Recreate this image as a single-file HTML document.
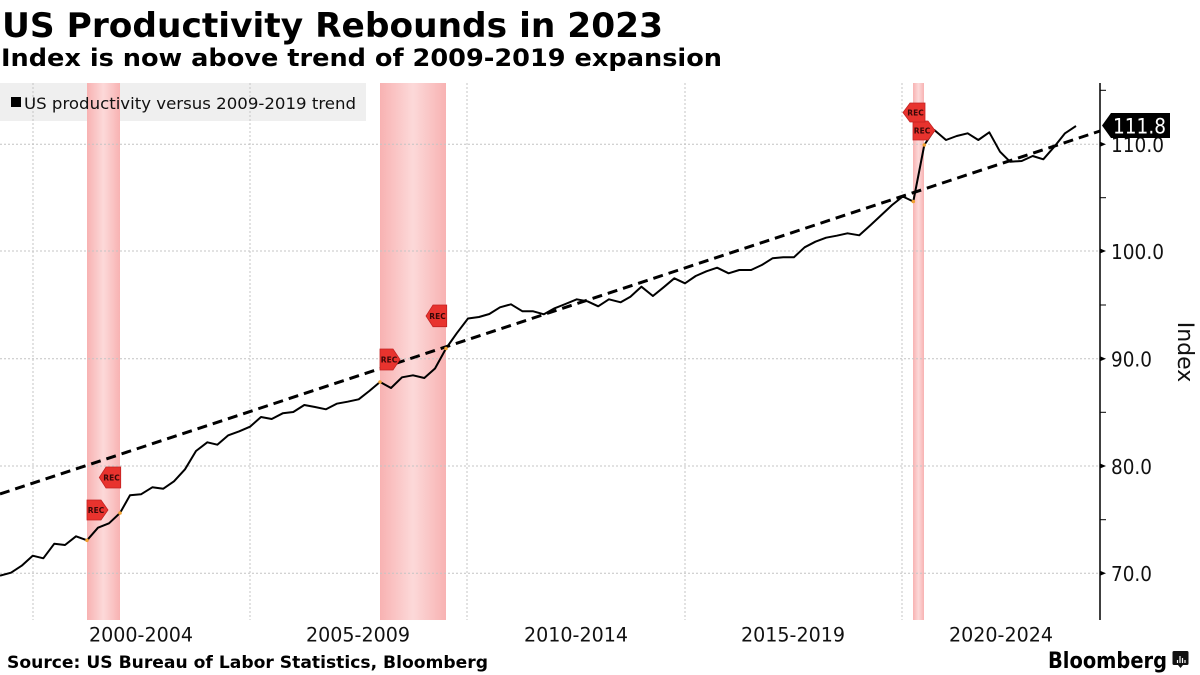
<!DOCTYPE html>
<html>
<head>
<meta charset="utf-8">
<style>
html,body{margin:0;padding:0;background:#fff;}
body{width:1200px;height:675px;overflow:hidden;}
svg{display:block;}
text{font-family:"DejaVu Sans","Liberation Sans",sans-serif;}
</style>
</head>
<body>
<svg width="1200" height="675" viewBox="0 0 1200 675" xmlns="http://www.w3.org/2000/svg">
  <defs>
    <linearGradient id="rb" x1="0" y1="0" x2="1" y2="0">
      <stop offset="0" stop-color="#f8b2b2"/>
      <stop offset="0.5" stop-color="#fcd9d9"/>
      <stop offset="1" stop-color="#f8b2b2"/>
    </linearGradient>
  </defs>
  <rect x="0" y="0" width="1200" height="675" fill="#fff"/>

  <!-- Title -->
  <text x="2" y="37" font-size="34" font-weight="bold" fill="#000" textLength="661" lengthAdjust="spacingAndGlyphs">US Productivity Rebounds in 2023</text>
  <text x="1" y="66" font-size="24" font-weight="bold" fill="#000" textLength="721" lengthAdjust="spacingAndGlyphs">Index is now above trend of 2009-2019 expansion</text>

  <!-- Legend background -->
  <rect x="0" y="83" width="366" height="38" fill="#efefef"/>

  <!-- Recession bands -->
  <rect x="87" y="83" width="33" height="537" fill="url(#rb)"/>
  <rect x="380" y="83" width="66" height="537" fill="url(#rb)"/>
  <rect x="913" y="83" width="11" height="537" fill="url(#rb)"/>

  <!-- Gridlines -->
  <g stroke="#c4c4c4" stroke-width="1" stroke-dasharray="2 2" fill="none">
    <line x1="0" y1="144.3" x2="1100" y2="144.3"/>
    <line x1="0" y1="251" x2="1100" y2="251"/>
    <line x1="0" y1="358.7" x2="1100" y2="358.7"/>
    <line x1="0" y1="466" x2="1100" y2="466"/>
    <line x1="0" y1="573.3" x2="1100" y2="573.3"/>
    <line x1="33" y1="83" x2="33" y2="620"/>
    <line x1="250" y1="83" x2="250" y2="620"/>
    <line x1="467" y1="83" x2="467" y2="620"/>
    <line x1="685" y1="83" x2="685" y2="620"/>
    <line x1="902" y1="83" x2="902" y2="620"/>
  </g>

  <!-- Legend -->
  <rect x="11" y="97" width="10" height="10" fill="#000"/>
  <text x="24" y="109" font-size="16" fill="#111" textLength="332" lengthAdjust="spacingAndGlyphs">US productivity versus 2009-2019 trend</text>

  <!-- Trend line -->
  <line x1="0" y1="494" x2="1100" y2="131" stroke="#000" stroke-width="3" stroke-dasharray="10 6"/>

  <!-- Productivity line -->
  <polyline fill="none" stroke="#000" stroke-width="2" stroke-linejoin="round" points="
0,575.7 11,572.7 21.7,565.7 32.7,555.7 43.3,558.3 54.3,543.7 65,545 76,536.3 87,540.3 98,527.7
109,523.3 120,513 130,495.3 141,494.3 152.3,487.3 163.3,488.7 174,481.3 185,469.3 196,451 207.3,442.3
217.3,444.7 228.3,435.3 239.3,431.3 250,426.7 261,417 271.7,419 282.7,413.3 293.3,412 304.3,405 315,407
326,409.3 336.7,403.7 347.7,401.7 358.7,399.3 369.3,391 380,382 391,388 402,377.3 413,375.3 424.3,378
435,368.5 446,348.5 456.7,333.3 468,318.5 479,317 489.3,314 500,307.3 511,304.3 522.5,311.3 533.2,311.3
543.9,314.3 554.6,308.3 565.4,304 576.8,299.3 587.5,301.3 598.2,306.3 608.9,299.3 620.7,302.3 630.4,296.7 641.4,286.7
652.9,296 663.6,287.3 674.3,278.3 685,283.3 695.7,276 706.4,271.3 717.1,267.7 728.6,273.3 739.3,270 751.1,270
761.8,265 772.5,258.3 783.2,257.3 793.9,257.3 804.6,247.3 815.4,241.7 826.1,237.7 836.8,235.7 847.5,233.3 859.3,235.3
870.7,225 881.4,215 892.1,205 902.8,196.5 913.3,201.5 924.3,145 934.3,130 946,140 956.7,136 967.7,133.3
978.3,140 989.3,132.3 1000,151.7 1010,161.7 1021.7,161 1032.7,156 1043.3,159.3 1054.3,146.7 1065,133.3 1076,126"/>

  <!-- orange markers -->
  <g fill="#f0a030">
    <circle cx="87" cy="540.3" r="1.8"/>
    <circle cx="120" cy="513" r="1.8"/>
    <circle cx="380" cy="382" r="1.8"/>
    <circle cx="446" cy="348.5" r="1.8"/>
    <circle cx="913.3" cy="201.5" r="1.8"/>
    <circle cx="924.3" cy="145" r="1.8"/>
  </g>

  <!-- REC tags -->
  <g fill="#e8332e" stroke="#c42222" stroke-width="0.8">
    <polygon points="87,500 101,500 108,510 101,520 87,520"/>
    <polygon points="380,349 393,349 400,359.5 393,370 380,370"/>
    <polygon points="913,121 928,121 935,130.5 928,140 913,140"/>
    <polygon points="120.7,467 106,467 99.3,477.5 106,488 120.7,488"/>
    <polygon points="446.7,305 433,305 426,316 433,326.7 446.7,326.7"/>
    <polygon points="925,103 910,103 903,112.5 910,122 925,122"/>
  </g>
  <g font-size="7.5" font-weight="bold" fill="#3a0808" text-anchor="middle">
    <text x="96" y="513">REC</text>
    <text x="389" y="362.5">REC</text>
    <text x="922" y="133.5">REC</text>
    <text x="111.5" y="480.5">REC</text>
    <text x="437.5" y="319">REC</text>
    <text x="915.5" y="115.5">REC</text>
  </g>

  <!-- Right axis -->
  <line x1="1100" y1="83" x2="1100" y2="620" stroke="#000" stroke-width="1.5"/>
  <g fill="#000">
    <polygon points="1100,141.8 1106,144.3 1100,146.8"/>
    <polygon points="1100,248.5 1106,251 1100,253.5"/>
    <polygon points="1100,356.2 1106,358.7 1100,361.2"/>
    <polygon points="1100,463.5 1106,466 1100,468.5"/>
    <polygon points="1100,570.8 1106,573.3 1100,575.8"/>
  </g>
  <g stroke="#000" stroke-width="1">
    <line x1="1100" y1="90.3" x2="1106" y2="90.3"/>
    <line x1="1100" y1="197.7" x2="1106" y2="197.7"/>
    <line x1="1100" y1="305" x2="1106" y2="305"/>
    <line x1="1100" y1="412.3" x2="1106" y2="412.3"/>
    <line x1="1100" y1="519.7" x2="1106" y2="519.7"/>
  </g>
  <g font-size="20.5" fill="#111">
    <text x="1111" y="152" textLength="53" lengthAdjust="spacingAndGlyphs">110.0</text>
    <text x="1111" y="259" textLength="53" lengthAdjust="spacingAndGlyphs">100.0</text>
    <text x="1111" y="366.5" textLength="41" lengthAdjust="spacingAndGlyphs">90.0</text>
    <text x="1111" y="474" textLength="41" lengthAdjust="spacingAndGlyphs">80.0</text>
    <text x="1111" y="581" textLength="41" lengthAdjust="spacingAndGlyphs">70.0</text>
  </g>
  <text x="0" y="0" font-size="22" fill="#111" text-anchor="middle" transform="translate(1178,352) rotate(90)">Index</text>

  <!-- Last value label -->
  <polygon points="1102,125.5 1111,113 1170,113 1170,138 1111,138" fill="#000"/>
  <text x="1113" y="133.5" font-size="21" fill="#fff" textLength="53" lengthAdjust="spacingAndGlyphs">111.8</text>

  <!-- X labels -->
  <g font-size="19.5" fill="#111">
    <text x="89" y="641.5" textLength="104" lengthAdjust="spacingAndGlyphs">2000-2004</text>
    <text x="306" y="641.5" textLength="104" lengthAdjust="spacingAndGlyphs">2005-2009</text>
    <text x="524" y="641.5" textLength="104" lengthAdjust="spacingAndGlyphs">2010-2014</text>
    <text x="741" y="641.5" textLength="104" lengthAdjust="spacingAndGlyphs">2015-2019</text>
    <text x="949" y="641.5" textLength="104" lengthAdjust="spacingAndGlyphs">2020-2024</text>
  </g>

  <!-- Footer -->
  <text x="7" y="668" font-size="17" font-weight="bold" fill="#000" textLength="481" lengthAdjust="spacingAndGlyphs">Source: US Bureau of Labor Statistics, Bloomberg</text>
  <text x="1048" y="668" font-size="22" font-weight="bold" fill="#000" textLength="119" lengthAdjust="spacingAndGlyphs">Bloomberg</text>
  <g>
    <path d="M1174,651 h13 a1.5,1.5 0 0 1 1.5,1.5 v11 a1.5,1.5 0 0 1 -1.5,1.5 h-4 l-2.5,3 l-2.5,-3 h-4 a1.5,1.5 0 0 1 -1.5,-1.5 v-11 a1.5,1.5 0 0 1 1.5,-1.5z" fill="#111"/>
    <g stroke="#fff" stroke-width="1.2">
      <line x1="1177.5" y1="660" x2="1177.5" y2="663"/>
      <line x1="1180" y1="656" x2="1180" y2="663"/>
      <line x1="1182.5" y1="658" x2="1182.5" y2="663"/>
      <line x1="1185" y1="660" x2="1185" y2="663"/>
    </g>
  </g>
</svg>
</body>
</html>
